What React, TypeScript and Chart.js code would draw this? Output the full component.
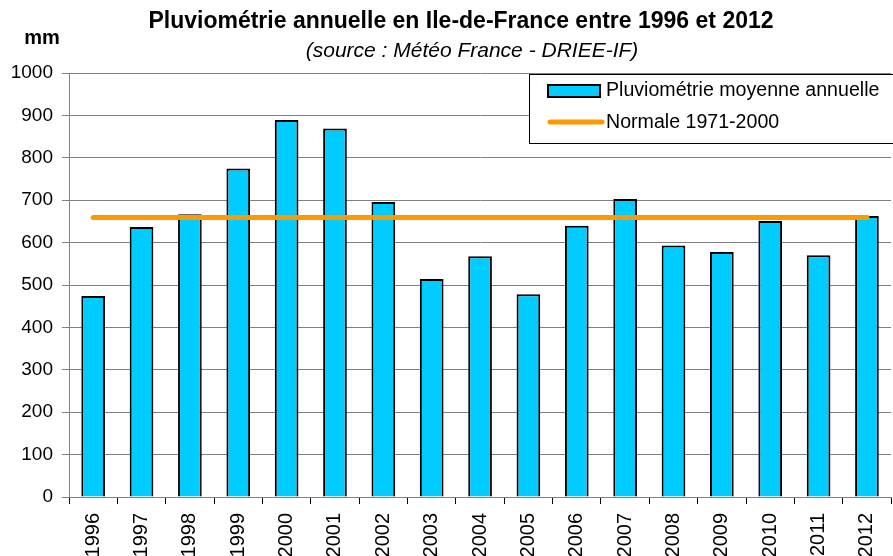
import React, { useEffect, useRef } from "react";
import { Chart, registerables } from "chart.js";

Chart.register(...registerables);

const years = ["1996","1997","1998","1999","2000","2001","2002","2003","2004","2005","2006","2007","2008","2009","2010","2011","2012"];
const rainfall = [474, 637, 667, 775, 889, 869, 696, 514, 568, 478, 640, 703, 593, 578, 651, 570, 663];
const normalValue = 659;
const normal = years.map(() => normalValue);
const titleText = "Pluviométrie annuelle en Ile-de-France entre 1996 et 2012";
const subtitleText = "(source : Météo France - DRIEE-IF)";
const unitText = "mm";
const barLabel = "Pluviométrie moyenne annuelle";
const lineLabel = "Normale 1971-2000";

const FONT = "'Liberation Sans', Arial, sans-serif";
const CANVAS_W = 900;
const CANVAS_H = 600;

const overlayPlugin = {
  id: "overlay",
  afterDraw(chart: any) {
    const ctx = chart.ctx as CanvasRenderingContext2D;
    ctx.save();
    ctx.fillStyle = "#000";
    ctx.textBaseline = "middle";
    ctx.textAlign = "center";
    ctx.font = `bold 23px ${FONT}`;
    ctx.fillText(titleText, 461, 22);
    ctx.font = `italic 21px ${FONT}`;
    ctx.fillText(subtitleText, 472, 51);
    ctx.font = `bold 20px ${FONT}`;
    ctx.fillText(unitText, 42, 38);

    // legend box
    ctx.fillStyle = "#fff";
    ctx.fillRect(529.5, 74.5, 380, 69);
    ctx.strokeStyle = "#000";
    ctx.lineWidth = 1;
    ctx.strokeRect(529.5, 74.5, 380, 69);
    // bar swatch
    ctx.fillStyle = "#00CCFF";
    ctx.fillRect(548, 85, 52, 12);
    ctx.lineWidth = 2;
    ctx.strokeRect(548, 85, 52, 12);
    // line swatch
    ctx.strokeStyle = "#FF9900";
    ctx.lineWidth = 5;
    ctx.lineCap = "round";
    ctx.beginPath();
    ctx.moveTo(550, 122);
    ctx.lineTo(602, 122);
    ctx.stroke();
    ctx.fillStyle = "#000";
    ctx.textAlign = "left";
    ctx.font = `19.6px ${FONT}`;
    ctx.fillText(chart.data.datasets[1].label, 606, 91);
    ctx.fillText(chart.data.datasets[0].label, 606, 123);
    ctx.restore();
  },
};

export default function App() {
  const ref = useRef<HTMLCanvasElement | null>(null);
  useEffect(() => {
    if (!ref.current) return;
    const chart = new Chart(ref.current, {
      type: "bar",
      data: {
        labels: years,
        datasets: [
          {
            type: "line",
            label: lineLabel,
            data: normal,
            borderColor: "#FF9900",
            backgroundColor: "#FF9900",
            borderWidth: 5,
            pointRadius: 0,
            borderCapStyle: "round",
            order: 0,
          } as any,
          {
            type: "bar",
            label: barLabel,
            data: rainfall,
            backgroundColor: "#00CCFF",
            borderColor: "#000",
            borderWidth: 2,
            barPercentage: 0.49,
            categoryPercentage: 1,
            order: 1,
          },
        ],
      },
      options: {
        animation: false,
        responsive: false,
        devicePixelRatio: 1,
        layout: { padding: { top: 73, right: 2, left: 0, bottom: 0 } },
        plugins: { legend: { display: false }, title: { display: false }, tooltip: { enabled: false } },
        scales: {
          x: {
            offset: true,
            grid: { offset: true, drawOnChartArea: false, drawTicks: true, tickLength: 7, color: "#000" },
            border: { color: "#808080" },
            ticks: {
              autoSkip: false,
              minRotation: 90,
              maxRotation: 90,
              padding: 9,
              color: "#000",
              font: { family: FONT, size: 20 },
            },
            afterFit(scale: any) {
              scale.height = CANVAS_H - 497;
            },
          },
          y: {
            min: 0,
            max: 1000,
            ticks: {
              stepSize: 100,
              padding: 9,
              color: "#000",
              font: { family: FONT, size: 19 },
              callback: (v: any) => String(v),
            },
            grid: { color: "#808080", tickLength: 7 },
            border: { color: "#808080" },
            afterFit(scale: any) {
              scale.width = 69;
            },
          },
        },
      },
      plugins: [overlayPlugin],
    });
    return () => chart.destroy();
  }, []);
  return (
    <div style={{ position: "fixed", left: 0, top: 0, width: 893, height: 556, overflow: "hidden", background: "#fff" }}>
      <canvas ref={ref} width={CANVAS_W} height={CANVAS_H} style={{ width: CANVAS_W, height: CANVAS_H, display: "block" }} />
    </div>
  );
}
